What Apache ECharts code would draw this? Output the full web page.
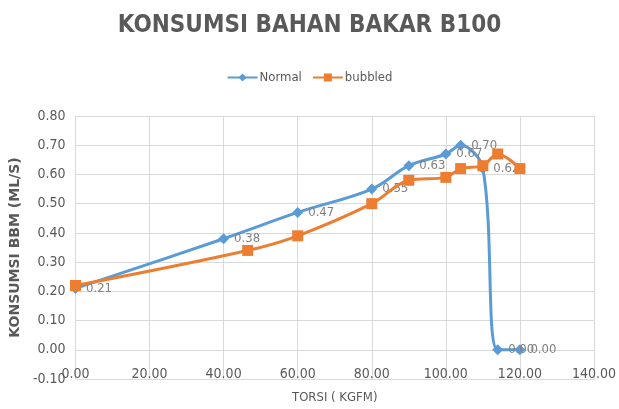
<!DOCTYPE html>
<html>
<head>
<meta charset="utf-8">
<script src="https://cdn.jsdelivr.net/npm/echarts@6/dist/echarts.min.js"></script>
<style>
  html, body { margin: 0; padding: 0; background: #fff; }
  #chart { width: 619px; height: 409px; }
</style>
</head>
<body>
<div id="chart"></div>
<script>
// torsi (x) dan konsumsi (y)
const normalX = [0, 40, 60, 80, 90, 100, 104, 110, 114, 120];
const normalY = [0.21, 0.38, 0.47, 0.55, 0.63, 0.67, 0.70, 0.62, 0.00, 0.00];
const bubbledX = [0, 46.5, 60, 80, 90, 100, 104, 110, 114, 120];
const bubbledY = [0.22, 0.34, 0.39, 0.50, 0.58, 0.59, 0.62, 0.63, 0.67, 0.62];

const FONT = "'DejaVu Sans', sans-serif";

const pairs = (xs, ys) => xs.map((x, i) => [x, ys[i]]);

const chart = echarts.init(document.getElementById('chart'));
chart.setOption({
  animation: false,
  textStyle: { fontFamily: FONT },
  title: {
    text: 'KONSUMSI BAHAN BAKAR B100',
    left: 'center',
    top: 9,
    textStyle: {
      fontFamily: FONT,
      fontSize: 24,
      // condensed face
      fontWeight: 'bold condensed',
      color: '#595959',
    },
  },
  legend: {
    top: 66,
    left: 'center',
    itemWidth: 30,
    itemHeight: 10,
    itemGap: 10,
    textStyle: { fontFamily: FONT, fontSize: 13, fontWeight: 'normal condensed', color: '#595959', padding: [0, 0, 0, -3] },
    data: ['Normal', 'bubbled'],
  },
  grid: {
    left: 62,
    right: 21,
    top: 116,
    bottom: 29,
    containLabel: false,
  },
  xAxis: {
    type: 'value',
    min: 0,
    max: 140,
    interval: 20,
    name: 'TORSI ( KGFM)',
    nameLocation: 'middle',
    nameGap: 12,
    nameTextStyle: { fontFamily: FONT, fontSize: 13, fontWeight: 'normal condensed', color: '#595959' },
    axisLine: { show: false },
    axisTick: { show: false },
    axisLabel: {
      margin: -12,
      fontSize: 14,
      fontWeight: 'normal condensed',
      color: '#595959',
      formatter: (v) => v.toFixed(2),
    },
    splitLine: { show: true, lineStyle: { color: '#d9d9d9', width: 1 } },
  },
  yAxis: {
    type: 'value',
    min: -0.1,
    max: 0.8,
    interval: 0.1,
    name: 'KONSUMSI BBM (ML/S)',
    nameLocation: 'middle',
    nameGap: 38,
    nameTextStyle: { fontFamily: FONT, fontSize: 14, fontWeight: 'bold', color: '#595959' },
    axisLine: { show: false },
    axisTick: { show: false },
    axisLabel: {
      margin: 10,
      fontSize: 14,
      fontWeight: 'normal condensed',
      color: '#595959',
      formatter: (v) => v.toFixed(2),
    },
    splitLine: { show: true, lineStyle: { color: '#d9d9d9', width: 1 } },
  },
  series: [
    {
      name: 'Normal',
      type: 'line',
      smooth: 0.35,
      data: pairs(normalX, normalY),
      symbol: 'diamond',
      symbolSize: 11,
      z: 2,
      lineStyle: { color: '#5B9BD5', width: 3 },
      itemStyle: { color: '#5B9BD5' },
      label: {
        show: true,
        position: 'right',
        distance: 5,
        fontSize: 13,
        fontWeight: 'normal condensed',
        color: '#808080',
        formatter: (p) => p.value[1].toFixed(2),
      },
    },
    {
      name: 'bubbled',
      type: 'line',
      smooth: 0.35,
      data: pairs(bubbledX, bubbledY),
      symbol: 'rect',
      symbolSize: 11,
      z: 3,
      lineStyle: { color: '#ED7D31', width: 3 },
      itemStyle: { color: '#ED7D31' },
    },
  ],
});
</script>
</body>
</html>
